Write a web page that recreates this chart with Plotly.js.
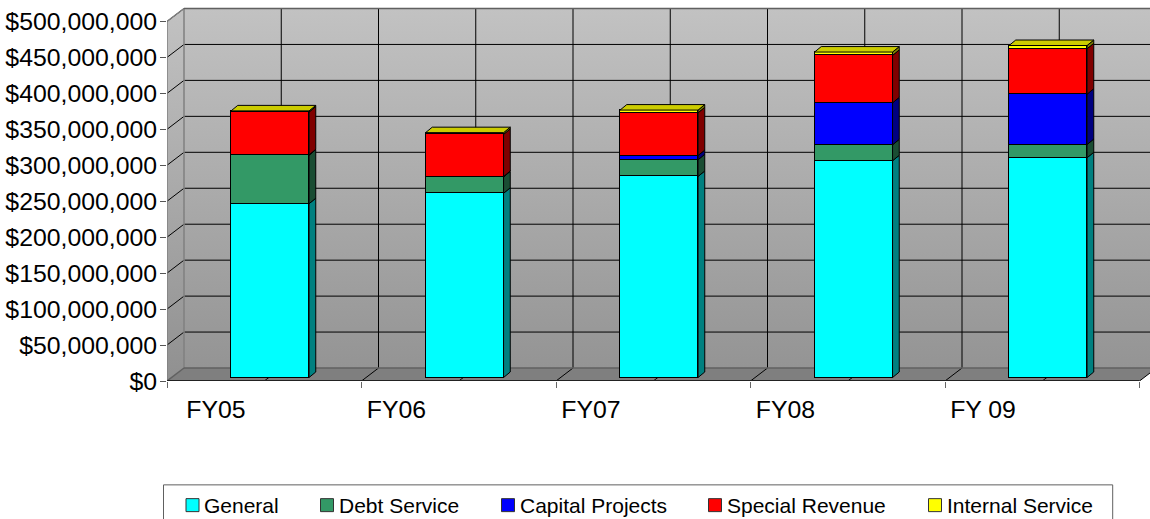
<!DOCTYPE html>
<html><head><meta charset="utf-8">
<script src="https://cdn.plot.ly/plotly-3.0.1.min.js"></script>
<style>html,body{margin:0;padding:0;background:#fff;overflow:hidden}</style>
</head><body><div id="chart" style="width:1150px;height:519px"></div>
<script>
// ---- data (dollars) ----
const categories = ['FY05','FY06','FY07','FY08','FY 09'];
const general  = [241.7e6,256.2e6,279.6e6,301.4e6,305.6e6];
const debt     = [ 67.5e6, 22.8e6, 23.2e6, 22.2e6, 18.4e6];
const capital  = [  0.5e6,  0.5e6,  5.9e6, 58.4e6, 70.0e6];
const special  = [ 59.5e6, 58.6e6, 59.5e6, 66.0e6, 63.2e6];
const internal = [  1.6e6,  2.4e6,  3.7e6,  4.6e6,  4.5e6];
const seriesNames = ['General','Debt Service','Capital Projects','Special Revenue','Internal Service'];
const seriesValues = [general,debt,capital,special,internal];
const faceColors = ['#00ffff','#339966','#0000ff','#ff0000','#ffff00'];
const sideColors = ['#008080','#1a4d33','#000080','#800000','#808000'];
const topColor = '#cccc00';

// ---- layout constants (pixels) ----
const W=1150,H=519, L=167, BASE=381.5;
const CAT=194.5;                 // px per category
const PX_PER_USD=0.72/1e6;       // px per dollar
const xU=p=>p/CAT, yU=p=>p/PX_PER_USD;
const plotH=BASE, plotW=W-L;
const xRange=[0,xU(plotW)], yRange=[0,yU(plotH)];
// planes: wall at the back of the box, bars a bit behind the front edge
const WALL_DX=17, WALL_DY=13, BAR_DX=5.8, BAR_DY=3.5, DEPTH_DX=6.7, DEPTH_DY=5.5, BAR_W=78;
const wx=u=>u+xU(WALL_DX), wy=v=>v+yU(WALL_DY);
const yMax=500e6, yStep=50e6, nCat=categories.length;
const labelPx=[216,396.5,591,785.5,983];

const traces=[];
function poly(xs,ys,extra){traces.push(Object.assign({type:'scatter',mode:'lines',x:xs,y:ys,fill:'toself',hoverinfo:'skip',showlegend:false,line:{width:0,color:'rgba(0,0,0,0)'}},extra));}
function lines(xs,ys,color,width){traces.push({type:'scatter',mode:'lines',x:xs,y:ys,hoverinfo:'skip',showlegend:false,line:{color:color,width:width}});}

const xEnd=wx(nCat+0.2), xFront=nCat;
// back wall, left wall, floor
poly([wx(0),xEnd,xEnd,wx(0),wx(0)],[wy(0),wy(0),wy(yMax),wy(yMax),wy(0)],
  {fillgradient:{type:'vertical',colorscale:[[0,'#949494'],[1,'#c2c2c2']]}});
poly([0,wx(0),wx(0),0,0],[0,wy(0),wy(yMax),yMax,0],
  {fillgradient:{type:'vertical',colorscale:[[0,'#909090'],[1,'#c2c2c2']]}});
poly([0,xFront,wx(xFront),wx(0),0],[0,0,wy(0),wy(0),0],{fillcolor:'#7f7f7f'});

// gridlines
const gx=[],gy=[],sx=[],sy=[],vx=[],vy=[],fx=[],fy=[];
for(let v=yStep;v<=yMax;v+=yStep){gx.push(wx(0),xEnd,null);gy.push(wy(v),wy(v),null);
  sx.push(0,wx(0),null);sy.push(v,wy(v),null);}
for(let c=0.5;c<=nCat;c+=0.5){vx.push(wx(c),wx(c),null);vy.push(wy(0),wy(yMax),null);
  fx.push(c,wx(c),null);fy.push(0,wy(0),null);}
lines(gx,gy,'#000',1);
lines(sx,sy,'#000',1);
lines(vx,vy,'#000',1);
lines(fx,fy,'#000',1);
// box edges
lines([0,0,wx(0),wx(0)],[0,yMax,wy(yMax),wy(0)],'#808080',1.5);
lines([wx(0),xEnd,null,wx(0),xEnd,null,wx(0),0],[wy(yMax),wy(yMax),null,wy(0),wy(0),null,wy(0),0],'#606060',1.5);
lines([0,xFront],[0,0],'#222',2);

// stacked bars on a plane set back from the front edge
const bx=categories.map((_,i)=>i+0.5);
seriesValues.forEach((vals,s)=>{
  traces.push({type:'bar',name:seriesNames[s],x:bx,y:vals,width:xU(BAR_W),xaxis:'x2',yaxis:'y2',
    marker:{color:faceColors[s],line:{color:'#000',width:1}},hoverinfo:'x+y+name',showlegend:false});
});
// right side faces and top faces of the bars
const DX=xU(DEPTH_DX),DY=yU(DEPTH_DY),HW=xU(BAR_W)/2;
const cum=categories.map(()=>0);
seriesValues.forEach((vals,s)=>{
  const xs=[],ys=[];
  vals.forEach((v,i)=>{
    const r=bx[i]+HW,b=cum[i],t=cum[i]+v;
    xs.push(r,r+DX,r+DX,r,r,null);ys.push(b,b+DY,t+DY,t,b,null);
    cum[i]=t;
  });
  traces.push({type:'scatter',mode:'lines',x:xs,y:ys,xaxis:'x2',yaxis:'y2',fill:'toself',fillcolor:sideColors[s],
    line:{color:'#000',width:1},hoverinfo:'skip',showlegend:false});
});
{const xs=[],ys=[];
 cum.forEach((t,i)=>{const l=bx[i]-HW,r=bx[i]+HW;
   xs.push(l,r,r+DX,l+DX,l,null);ys.push(t,t,t+DY,t+DY,t,null);});
 traces.push({type:'scatter',mode:'lines',x:xs,y:ys,xaxis:'x2',yaxis:'y2',fill:'toself',fillcolor:topColor,
    line:{color:'#000',width:1},hoverinfo:'skip',showlegend:false});}

// legend (uneven spacing of the original), in page pixels
const legendSwatch=[186,320.5,501.5,708.5,928.5], legendText=[202,337,518,725,945];
const pxX=p=>(p-L)/plotW, pxY=p=>(BASE-p)/plotH;
const shapes=[{type:'rect',xref:'paper',yref:'paper',x0:pxX(163.5),x1:pxX(1112.7),y0:pxY(530),y1:pxY(485.5),
  line:{color:'#606060',width:1},fillcolor:'#fff'}];
const annotations=[];
seriesNames.forEach((n,i)=>{
  shapes.push({type:'rect',xref:'paper',yref:'paper',x0:pxX(legendSwatch[i]),x1:pxX(legendSwatch[i]+13),
    y0:pxY(512.3),y1:pxY(499.3),line:{color:'#333',width:1},fillcolor:faceColors[i]});
  annotations.push({xref:'paper',yref:'paper',x:pxX(legendText[i]),y:pxY(506),text:n,showarrow:false,
    xanchor:'left',yanchor:'middle',font:{family:'Liberation Sans',size:21,color:'#000'}});
});

const layout={width:W,height:H,margin:{l:L,r:0,t:0,b:H-BASE,pad:0},paper_bgcolor:'#fff',plot_bgcolor:'rgba(0,0,0,0)',
  showlegend:false,barmode:'stack',bargap:0,font:{family:'Liberation Sans',color:'#000'},shapes,annotations,
  xaxis:{type:'linear',range:xRange,showgrid:false,zeroline:false,showline:false,tickmode:'array',
    tickvals:labelPx.map(p=>xU(p-L)),ticktext:categories,ticks:'outside',ticklen:6,tickcolor:'rgba(0,0,0,0)',
    tickfont:{size:24.8,family:'Liberation Sans',color:'#000'},
    minor:{tickmode:'array',tickvals:[0,1,2,3,4,5],ticks:'outside',ticklen:6,tickcolor:'#666',tickwidth:1,showgrid:false}},
  yaxis:{type:'linear',range:yRange,showgrid:false,zeroline:false,showline:false,tickmode:'linear',tick0:0,dtick:yStep,
    tickformat:'$,.0f',ticks:'outside',ticklen:6,tickcolor:'#555',tickwidth:1,ticklabelstandoff:-2,
    tickfont:{size:24.8,family:'Liberation Sans',color:'#000'}},
  xaxis2:{overlaying:'x',anchor:'y2',visible:false,type:'linear',range:[xRange[0]-xU(BAR_DX),xRange[1]-xU(BAR_DX)]},
  yaxis2:{overlaying:'y',anchor:'x2',visible:false,type:'linear',range:[yRange[0]-yU(BAR_DY),yRange[1]-yU(BAR_DY)]}
};
Plotly.newPlot('chart',traces,layout,{displayModeBar:false});
</script></body></html>
